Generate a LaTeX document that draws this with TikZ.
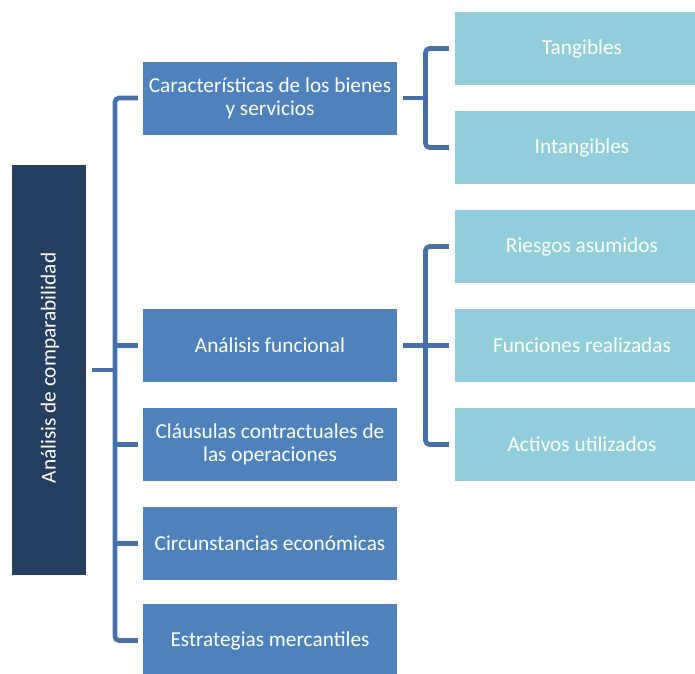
\documentclass[tikz,border=0pt]{standalone}
\usepackage{fontspec}
\setmainfont{Carlito}
\definecolor{rootblue}{HTML}{243F60}
\definecolor{midblue}{HTML}{4F81BD}
\definecolor{lightblue}{HTML}{92CDDC}
\definecolor{linkblue}{HTML}{4670A8}
\begin{document}
\begin{tikzpicture}[x=1pt,y=-1pt,
  boxtxt/.style={text=white, font=\fontsize{21.3}{22.8}\selectfont, align=center, inner sep=0pt},
  rootbox/.style={boxtxt, fill=rootblue, minimum width=74pt, minimum height=410pt},
  midbox/.style={boxtxt, fill=midblue, minimum width=254pt, minimum height=73pt},
  leafbox/.style={boxtxt, fill=lightblue, minimum width=254pt, minimum height=73pt},
  conn/.style={draw=linkblue, line width=4.6pt, rounded corners=4pt}]
\useasboundingbox (0,0) rectangle (695,673);
\clip (0,0) rectangle (695,673);

% root
\node[rootbox] (r) at (49,370) {};
\node[boxtxt, rotate=90] at ([xshift=1pt,yshift=2pt]r.center) {Análisis de comparabilidad};

% second level
\node[midbox] (m1) at (270,98) {Características de los bienes\\y servicios};
\node[midbox] (m2) at (270,345.5) {Análisis funcional};
\node[midbox] (m3) at (270,444.5) {Cláusulas contractuales de\\las operaciones};
\node[midbox] (m4) at (270,543.5) {Circunstancias económicas};
\node[midbox] (m5) at (270,640.5) {Estrategias mercantiles};

% third level
\node[leafbox] (t1) at (582,48.5) {Tangibles};
\node[leafbox] (t2) at (582,147.5) {Intangibles};
\node[leafbox] (t3) at (582,246.5) {Riesgos asumidos};
\node[leafbox] (t4) at (582,345.5) {Funciones realizadas};
\node[leafbox] (t5) at (582,444.5) {Activos utilizados};

% spines
\coordinate (s0) at (115,370);
\coordinate (s1) at (425.5,98);
\coordinate (s2) at (425.5,345.5);

% root bracket
\draw[conn] ([xshift=6pt]r.east) -- (s0);
\draw[conn] ([xshift=-5pt]m1.west) -| (s0) |- ([xshift=-5pt]m5.west);
\draw[conn] (s0 |- m2.west) -- ([xshift=-5pt]m2.west);
\draw[conn] (s0 |- m3.west) -- ([xshift=-5pt]m3.west);
\draw[conn] (s0 |- m4.west) -- ([xshift=-5pt]m4.west);

% goods bracket
\draw[conn] ([xshift=6pt]m1.east) -- (s1);
\draw[conn] ([xshift=-6pt]t1.west) -| (s1) |- ([xshift=-6pt]t2.west);

% functional bracket
\draw[conn] ([xshift=6pt]m2.east) -- (s2);
\draw[conn] ([xshift=-6pt]t3.west) -| (s2) |- ([xshift=-6pt]t5.west);
\draw[conn] (s2) -- ([xshift=-6pt]t4.west);
\end{tikzpicture}
\end{document}
